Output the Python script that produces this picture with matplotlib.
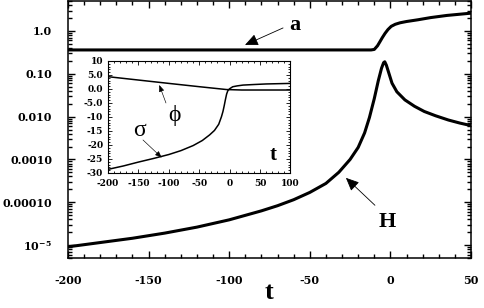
import numpy as np
import matplotlib
matplotlib.use("Agg")
import matplotlib.pyplot as plt
from matplotlib.ticker import FixedLocator, MultipleLocator, LogLocator, NullFormatter

plt.rcParams['mathtext.fontset'] = 'dejavuserif'
plt.rcParams['axes.unicode_minus'] = False

# main panel: scale factor a(t) and H(t), log axis
t_a = [-200, -100, -30, -12, -10, -8, -6.5, -5, -3.3, -1.5, 0.5, 3, 6, 10, 17, 25, 35, 50]
a_val = [0.36, 0.36, 0.36, 0.36, 0.37, 0.45, 0.56, 0.70, 0.88, 1.08, 1.28, 1.43, 1.55,
         1.66, 1.82, 2.05, 2.3, 2.6]

t_H = [-200, -180, -160, -140, -120, -100, -80, -70, -60, -50, -40, -32, -25, -20, -16,
       -13, -10, -7.5, -5.5, -4.2, -3.5, -2.5, -1, 1, 4, 9, 15, 21, 28, 36, 43, 50]
logH = [-5.04, -4.94, -4.84, -4.72, -4.58, -4.41, -4.20, -4.08, -3.94, -3.77, -3.56,
        -3.30, -3.00, -2.72, -2.38, -2.02, -1.58, -1.16, -0.87, -0.74, -0.72, -0.80,
        -0.98, -1.22, -1.42, -1.61, -1.76, -1.88, -1.98, -2.08, -2.15, -2.21]
H_val = [10 ** v for v in logH]

# inset: phi and sigma
t_phi = [-200, -150, -100, -49, -5, 20, 100]
phi = [4.4, 3.2, 2.0, 0.8, -0.2, -0.36, -0.36]

t_sig = [-200, -175, -150, -125, -100, -80, -60, -45, -33, -25, -18, -13.5, -11, -9, -7,
         -5, -3, 0, 5, 12, 22, 40, 60, 100]
sig = [-28.7, -27.5, -26.1, -24.8, -23.4, -22.0, -20.2, -18.4, -16.4, -14.8, -12.6, -9.9,
       -8.0, -6.0, -3.8, -1.8, -0.6, 0.1, 0.8, 1.1, 1.4, 1.6, 1.8, 2.0]

yticks_main = [1.0, 0.1, 0.01, 0.001, 0.0001, 1e-5]
ylabels_main = ["1.0", "0.10", "0.010", "0.0010", "0.00010", r"10$^{\mathbf{-5}}$"]
ins_yticks = [-30, -25, -20, -15, -10, -5, 0, 5, 10]
ins_ylabels = ["-30", "-25", "-20", "-15", "-10", "-5.0", "0.0", "5.0", "10"]

tickfont = dict(family='DejaVu Serif', weight='bold')

fig = plt.figure(figsize=(4.85, 3.08), dpi=100)
ax = fig.add_axes([68 / 485, 50 / 308, 403 / 485, 257 / 308])

ax.plot(t_a, a_val, color='black', lw=2.2)
ax.plot(t_H, H_val, color='black', lw=2.2)
ax.set_yscale('log')
ax.set_xlim(-200, 50)
ax.set_ylim(5e-6, 5.0)

ax.yaxis.set_major_locator(FixedLocator(yticks_main))
ax.set_yticklabels(ylabels_main, fontdict=tickfont, fontsize=8)
ax.yaxis.set_minor_locator(LogLocator(base=10, subs=np.arange(2, 10)))
ax.yaxis.set_minor_formatter(NullFormatter())
ax.xaxis.set_major_locator(MultipleLocator(50))
ax.xaxis.set_minor_locator(MultipleLocator(10))
for lab in ax.get_xticklabels():
    lab.set_fontfamily('DejaVu Serif')
    lab.set_fontweight('bold')
    lab.set_fontsize(8)
ax.tick_params(which='both', direction='in', top=True, right=True, width=1.0)
ax.tick_params(which='major', length=5)
ax.tick_params(which='minor', length=3)
ax.tick_params(axis='y', pad=11.5)
ax.tick_params(axis='x', pad=12)
for s in ax.spines.values():
    s.set_linewidth(1.1)

ax.text(0.498, -0.136, 't', transform=ax.transAxes, ha='center', va='center',
        fontfamily='Liberation Serif', fontweight='bold', fontsize=19)

big_head = dict(arrowstyle='-|>,head_length=1.0,head_width=0.45', mutation_scale=8,
                color='black', lw=0.6, shrinkA=0, shrinkB=0)
ax.text(-59.5, 10 ** 0.14, 'a', ha='center', va='center',
        fontfamily='Liberation Serif', fontweight='bold', fontsize=16)
ax.annotate('', xy=(-90.2, 10 ** -0.327), xytext=(-66.6, 10 ** 0.07), arrowprops=big_head)
ax.text(-2.1, 10 ** -4.46, 'H', ha='center', va='center',
        fontfamily='Liberation Serif', fontweight='bold', fontsize=16)
ax.annotate('', xy=(-27.6, 10 ** -3.43), xytext=(-9.6, 10 ** -4.07), arrowprops=big_head)

# inset
ins = fig.add_axes([108 / 485, 135 / 308, 182.5 / 485, 112 / 308])
ins.plot(t_phi, phi, color='black', lw=1.1)
ins.plot(t_sig, sig, color='black', lw=1.1)
ins.set_xlim(-200, 100)
ins.set_ylim(-30, 10)
ins.xaxis.set_major_locator(MultipleLocator(50))
ins.xaxis.set_minor_locator(MultipleLocator(10))
ins.yaxis.set_minor_locator(MultipleLocator(1))
ins.set_yticks(ins_yticks)
ins.set_yticklabels(ins_ylabels, fontdict=tickfont, fontsize=6.5)
for lab in ins.get_xticklabels():
    lab.set_fontfamily('DejaVu Serif')
    lab.set_fontweight('bold')
    lab.set_fontsize(6.5)
ins.tick_params(which='both', direction='in', top=True, right=True, width=0.6)
ins.tick_params(which='major', length=3)
ins.tick_params(which='minor', length=1.5)
ins.tick_params(axis='y', pad=3.5)
ins.tick_params(axis='x', pad=4.5)
for s in ins.spines.values():
    s.set_linewidth(0.8)

small_head = dict(arrowstyle='-|>,head_length=1.0,head_width=0.4', mutation_scale=4,
                  color='black', lw=0.45, shrinkA=0, shrinkB=0)
ins.text(0.905, 0.16, 't', transform=ins.transAxes, ha='center', va='center',
         fontfamily='Liberation Serif', fontweight='bold', fontsize=15)
ins.text(-90.7, -9.3, '\u03d5', ha='center', va='center',
         family=['Liberation Serif', 'DejaVu Serif'], fontsize=17)
ins.annotate('', xy=(-115.7, 1.43), xytext=(-104.7, -5.0), arrowprops=small_head)
ins.text(-149, -15, '\u03c3', ha='center', va='center',
         fontfamily='Liberation Serif', fontsize=17)
ins.annotate('', xy=(-111.7, -24.5), xytext=(-142.5, -18.2), arrowprops=small_head)

fig.savefig('out.png', dpi=100)
